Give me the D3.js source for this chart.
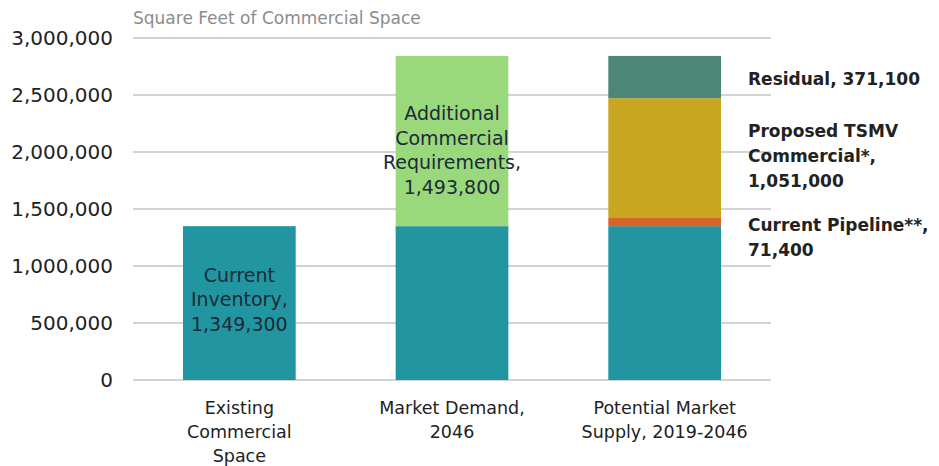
<!DOCTYPE html>
<html>
<head>
<meta charset="utf-8">
<script src="https://cdn.jsdelivr.net/npm/d3@7"></script>
<style>
  body { margin: 0; background: #fff; }
  svg text { font-family: "DejaVu Sans", sans-serif; }
</style>
</head>
<body>
<svg width="939" height="466"></svg>
<script>
// data
var categories = ["Existing Commercial Space", "Market Demand, 2046", "Potential Market Supply, 2019-2046"];
var categoryLines = [["Existing", "Commercial", "Space"], ["Market Demand,", "2046"], ["Potential Market", "Supply, 2019-2046"]];
var seriesKeys = ["inventory", "additional", "pipeline", "tsmv", "residual"];
var inventory = [1349300, 1349300, 1349300];
var additional = [0, 1493800, 0];
var pipeline = [0, 0, 71400];
var tsmv = [0, 0, 1051000];
var residual = [0, 0, 371100];
var yTicks = [0, 500000, 1000000, 1500000, 2000000, 2500000, 3000000];

var colors = {inventory: "#2196a0", additional: "#9ad87c", pipeline: "#d9622b", tsmv: "#c8a61f", residual: "#4b8676"};

// labels inside the bars
var innerLabels = [
  {cat: 0, key: "inventory", lines: ["Current", "Inventory,", "1,349,300"], dy: -4},
  {cat: 1, key: "additional", lines: ["Additional", "Commercial", "Requirements,", "1,493,800"], dy: 9}
];
// labels to the right of the third bar
var sideLabels = [
  {key: "residual", lines: ["Residual, 371,100"], dy: 1},
  {key: "tsmv", lines: ["Proposed TSMV", "Commercial*,", "1,051,000"], dy: -3},
  {key: "pipeline", lines: ["Current Pipeline**,", "71,400"], dy: 15}
];

var svg = d3.select("svg"),
    margin = {top: 38, right: 168, bottom: 86, left: 133},
    width = +svg.attr("width") - margin.left - margin.right,
    height = +svg.attr("height") - margin.top - margin.bottom;

var g = svg.append("g")
  .attr("transform", "translate(" + margin.left + "," + margin.top + ")");

var table = categories.map(function(c, i) {
  return {cat: c, inventory: inventory[i], additional: additional[i], pipeline: pipeline[i], tsmv: tsmv[i], residual: residual[i]};
});
var stacked = d3.stack().keys(seriesKeys)(table);

var x = d3.scaleBand().domain(categories).range([0, width]).paddingInner(0.47).paddingOuter(0.235);
var y = d3.scaleLinear().domain([0, 3000000]).range([height, 0]);

// gridlines
g.append("g")
  .selectAll("line")
  .data(yTicks)
  .join("line")
  .attr("x1", 0).attr("x2", width)
  .attr("y1", function(d) { return y(d); }).attr("y2", function(d) { return y(d); })
  .attr("stroke", "#c4c4c4").attr("stroke-width", 1.5);

// y axis labels
var yAxisG = g.append("g")
  .call(d3.axisLeft(y).tickValues(yTicks).tickFormat(d3.format(",")).tickSize(0).tickPadding(20));
yAxisG.select(".domain").remove();
yAxisG.selectAll("text")
  .attr("font-family", "DejaVu Sans, sans-serif")
  .attr("font-size", 20)
  .attr("fill", "#222");

// bars
g.append("g")
  .selectAll("g")
  .data(stacked)
  .join("g")
  .attr("fill", function(d) { return colors[d.key]; })
  .selectAll("rect")
  .data(function(d) { return d; })
  .join("rect")
  .attr("x", function(d) { return x(d.data.cat); })
  .attr("y", function(d) { return y(d[1]); })
  .attr("height", function(d) { return y(d[0]) - y(d[1]); })
  .attr("width", x.bandwidth());

// x axis labels
var xAxisG = g.append("g")
  .attr("transform", "translate(0," + height + ")")
  .call(d3.axisBottom(x).tickSize(0).tickFormat(""));
xAxisG.select(".domain").remove();
xAxisG.selectAll(".tick").each(function(d, i) {
  var t = d3.select(this).append("text")
    .attr("fill", "#222")
    .attr("font-size", 17.5)
    .attr("text-anchor", "middle");
  categoryLines[i].forEach(function(line, j) {
    t.append("tspan").attr("x", 0).attr("y", 34 + j * 24).text(line);
  });
});

function segMid(key, ci) {
  var s = stacked.find(function(d) { return d.key === key; })[ci];
  return (y(s[0]) + y(s[1])) / 2;
}

// inner labels
innerLabels.forEach(function(l) {
  var cx = x(categories[l.cat]) + x.bandwidth() / 2;
  var mid = segMid(l.key, l.cat) + l.dy;
  var t = g.append("text")
    .attr("text-anchor", "middle")
    .attr("font-size", 19)
    .attr("fill", "#1d2a38");
  l.lines.forEach(function(line, j) {
    t.append("tspan").attr("x", cx)
      .attr("y", mid + (j - (l.lines.length - 1) / 2) * 24.5 + 7)
      .text(line);
  });
});

// side labels
sideLabels.forEach(function(l) {
  var lx = x(categories[2]) + x.bandwidth() + 27;
  var mid = segMid(l.key, 2) + l.dy;
  var t = g.append("text")
    .attr("font-size", 17)
    .attr("font-weight", "bold")
    .attr("fill", "#222");
  l.lines.forEach(function(line, j) {
    t.append("tspan").attr("x", lx)
      .attr("y", mid + (j - (l.lines.length - 1) / 2) * 25 + 6.5)
      .text(line);
  });
});

// axis title
g.append("text")
  .attr("x", 0).attr("y", -14)
  .attr("font-size", 17)
  .attr("fill", "#8c8c8c")
  .text("Square Feet of Commercial Space");
</script>
</body>
</html>
